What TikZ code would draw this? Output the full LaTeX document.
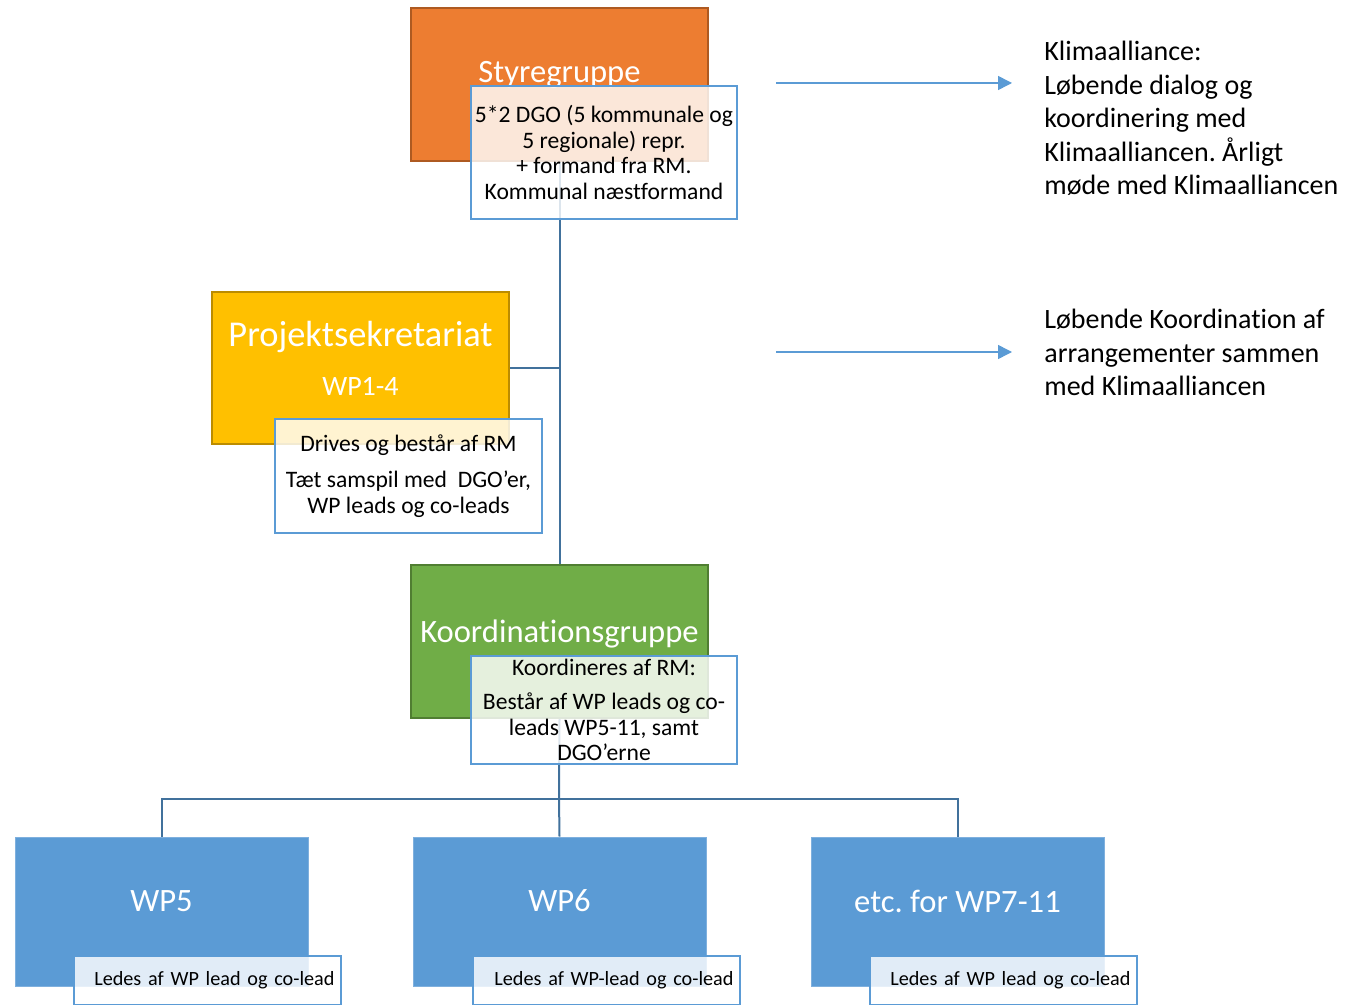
\documentclass[tikz,border=0pt]{standalone}
\usepackage{fontspec}
\setmainfont{Carlito}[Ligatures=NoCommon]
\frenchspacing
\usepackage{tikz}
\usetikzlibrary{positioning}
\usetikzlibrary{arrows.meta}
\definecolor{orangefill}{HTML}{ED7D31}
\definecolor{orangedraw}{HTML}{AE5A21}
\definecolor{goldfill}{HTML}{FFC000}
\definecolor{golddraw}{HTML}{BC8C00}
\definecolor{greenfill}{HTML}{70AD47}
\definecolor{greendraw}{HTML}{507E32}
\definecolor{wpfill}{HTML}{5B9BD5}
\definecolor{wpdraw}{HTML}{7FB0DE}
\definecolor{linkcol}{HTML}{41719C}
\definecolor{desccol}{HTML}{5B9BD5}
\tikzstyle{unit}=[draw, rectangle, line width=1pt, minimum width=148.5pt, minimum height=76.5pt, inner sep=0pt]
\tikzstyle{wpunit}=[unit, fill=wpfill, draw=wpdraw, line width=0.5pt, minimum width=146.5pt, minimum height=74.5pt]
\tikzstyle{desc}=[draw=desccol, rectangle, line width=1pt, fill=white, fill opacity=0.82, text opacity=1, inner sep=0pt, minimum width=133pt, align=center, font=\fontsize{11.8pt}{12.75pt}\selectfont]
\tikzstyle{leaddesc}=[desc, minimum height=24.5pt, text width=127.5pt, inner xsep=3pt, align=right, font=\fontsize{10.1pt}{12pt}\selectfont]
\tikzstyle{title}=[text=white, inner sep=0pt, font=\fontsize{16.3pt}{19pt}\selectfont]
\tikzstyle{link}=[draw=linkcol, line width=1pt]
\tikzstyle{note}=[anchor=north west, align=left, inner sep=0pt, font=\fontsize{14pt}{16.75pt}\selectfont]
\begin{document}
\begin{tikzpicture}[x=0.5pt, y=-0.5pt]
	\useasboundingbox (0,0) rectangle (1353,1005);
	
	% boxes
	\node (styr) [unit, fill=orangefill, draw=orangedraw] at (559.5,84.5) {};
	\node (styrtxt) [title] at ([yshift=4.75pt]styr.center) {Styregruppe};
	%
	\node (proj) [unit, fill=goldfill, draw=golddraw, minimum height=76pt] at (360.5,368) {};
	\node (projtxt) [title, font=\fontsize{18.2pt}{21pt}\selectfont] at ([yshift=15.5pt]proj.center) {Projektsekretariat};
	\node (projwp) [title, font=\fontsize{14pt}{17pt}\selectfont] at ([yshift=-9pt]proj.center) {WP1-4};
	%
	\node (koord) [unit, fill=greenfill, draw=greendraw] at (559.5,641.5) {};
	\node (koordtxt) [title] at ([yshift=3.75pt]koord.center) {Koordinationsgruppe};
	%
	\node (wp5) [wpunit] at (161.5,911.5) {};
	\node (wp6) [wpunit, right=52pt of wp5] {};
	\node (wp7) [wpunit, right=52pt of wp6] {};
	\node (wp5txt) [title] at ([yshift=5.25pt]wp5.center) {WP5};
	\node (wp6txt) [title] at ([yshift=5.25pt]wp6.center) {WP6};
	\node (wp7txt) [title] at ([yshift=5.25pt]wp7.center) {etc. for WP7-11};
	
	% connectors
	\coordinate (bus) at (559,799);
	\draw [link] (styr.south) -- (koord.north);
	\draw [link] (proj.east) -- (proj.east -| koord.north);
	\draw [link] (koord.south) -- (bus);
	\draw [link] (wp5.north) |- (bus) -| (wp7.north);
	\draw [link] (bus) -- (wp6.north);
	
	% descriptions
	\node (styrdesc) [desc, minimum height=66.5pt, below right=39pt and 30pt of styr.north west] {5*2 DGO (5 kommunale og\\ 5 regionale) repr.\\ + formand fra RM.\\ Kommunal næstformand};
	\node (projdesc) [desc, minimum width=133.5pt, minimum height=57pt, below right=63.5pt and 31.5pt of proj.north west] {Drives og består af RM\\[5.5pt] Tæt samspil med \ DGO’er,\\ WP leads og co-leads};
	\node (koorddesc) [desc, minimum height=54pt, below right=45.5pt and 30pt of koord.north west] {Koordineres af RM:\\[4.5pt] Består af WP leads og co-\\ leads WP5-11, samt\\ DGO’erne};
	\node (wp5desc) [leaddesc, below right=59pt and 29pt of wp5.north west] {Ledes af WP lead og co-lead};
	\node (wp6desc) [leaddesc, below right=59pt and 29.5pt of wp6.north west] {Ledes af WP-lead og co-lead};
	\node (wp7desc) [leaddesc, below right=59pt and 29pt of wp7.north west] {Ledes af WP lead og co-lead};
	
	% Klimaalliancen
	\coordinate (arr1a) at (776,83);
	\coordinate (arr1b) at (1012,83);
	\coordinate (arr2a) at (776,352);
	\coordinate (arr2b) at (1012,352);
	\draw [draw=desccol, line width=0.75pt, -{Triangle[length=7pt, width=7pt]}] (arr1a) -- (arr1b);
	\draw [draw=desccol, line width=0.75pt, -{Triangle[length=7pt, width=7pt]}] (arr2a) -- (arr2b);
	\node (klima) [note] at (1044,41) {Klimaalliance:\\ Løbende dialog og\\ koordinering med\\ Klimaalliancen. Årligt\\ møde med Klimaalliancen};
	\node (arrang) [note] at (1044,309) {Løbende Koordination af\\ arrangementer sammen\\ med Klimaalliancen};
\end{tikzpicture}
\end{document}
